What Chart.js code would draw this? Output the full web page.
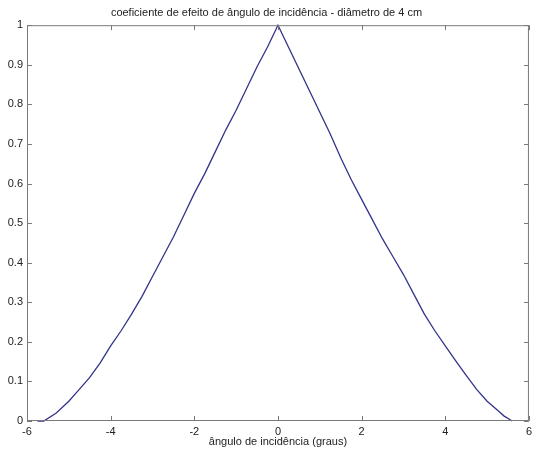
<!DOCTYPE html>
<html>
<head>
<meta charset="utf-8">
<title>coeficiente de efeito de ângulo de incidência</title>
<script src="https://cdn.jsdelivr.net/npm/chart.js@4/dist/chart.umd.min.js"></script>
<style>
  html, body { margin: 0; padding: 0; background: #fff; }
  #wrap { width: 536px; height: 455px; }
</style>
</head>
<body>
<div id="wrap"><canvas id="grafico" width="536" height="455"></canvas></div>
<script>
// Curva medida: ângulo de incidência (graus) x coeficiente
const anguloGraus = [
  -5.75, -5.6, -5.3, -5.0, -4.75, -4.5, -4.25, -4.0, -3.75, -3.5, -3.25, -3.0,
  -2.75, -2.5, -2.25, -2.0, -1.75, -1.5, -1.25, -1.0, -0.75, -0.5, -0.25, 0,
  0.25, 0.5, 0.75, 1.0, 1.25, 1.5, 1.75, 2.0, 2.25, 2.5, 2.75, 3.0,
  3.25, 3.5, 3.75, 4.0, 4.25, 4.5, 4.75, 5.0, 5.25, 5.4, 5.6
];
const coeficiente = [
  0, 0, 0.02, 0.05, 0.08, 0.11, 0.147, 0.19, 0.228, 0.27, 0.315, 0.365,
  0.415, 0.465, 0.52, 0.575, 0.625, 0.68, 0.735, 0.785, 0.84, 0.895, 0.945, 1.0,
  0.945, 0.89, 0.835, 0.78, 0.725, 0.665, 0.61, 0.56, 0.51, 0.46, 0.415, 0.37,
  0.32, 0.27, 0.228, 0.19, 0.152, 0.115, 0.08, 0.05, 0.027, 0.013, 0
];

const ticksX = [-6, -4, -2, 0, 2, 4, 6];
const rotulosX = ['-6', '-4', '-2', '0', '2', '4', '6'];
const ticksY = [0, 0.1, 0.2, 0.3, 0.4, 0.5, 0.6, 0.7, 0.8, 0.9, 1];
const rotulosY = ['0', '0.1', '0.2', '0.3', '0.4', '0.5', '0.6', '0.7', '0.8', '0.9', '1'];

const titulo = 'coeficiente de efeito de ângulo de incidência - diâmetro de 4 cm';
const tituloX = 'ângulo de incidência (graus)';

const corEixo = '#7a7a7a';
const fonte = { family: '"Liberation Sans", Arial, Helvetica, sans-serif', size: 11 };

// caixa dos eixos com marcas para dentro nos quatro lados
const caixaEixos = {
  id: 'caixaEixos',
  afterDatasetsDraw(chart) {
    const { ctx, chartArea: a, scales } = chart;
    const tam = 5;
    ctx.save();
    ctx.strokeStyle = corEixo;
    ctx.lineWidth = 1;
    ctx.beginPath();
    ctx.rect(a.left + 0.5, a.top + 0.5, a.right - a.left - 1, a.bottom - a.top - 1);
    ticksX.forEach(v => {
      const px = Math.round(scales.x.getPixelForValue(v)) + 0.5;
      ctx.moveTo(px, a.bottom);
      ctx.lineTo(px, a.bottom - tam);
      ctx.moveTo(px, a.top);
      ctx.lineTo(px, a.top + tam);
    });
    ticksY.forEach(v => {
      const py = Math.round(scales.y.getPixelForValue(v)) + 0.5;
      ctx.moveTo(a.left, py);
      ctx.lineTo(a.left + tam, py);
      ctx.moveTo(a.right, py);
      ctx.lineTo(a.right - tam, py);
    });
    ctx.stroke();
    ctx.restore();
  }
};

const pontos = anguloGraus.map((x, i) => ({ x: x, y: coeficiente[i] }));

new Chart(document.getElementById('grafico'), {
  type: 'scatter',
  data: {
    datasets: [{
      data: pontos,
      showLine: true,
      borderColor: '#33338a',
      borderWidth: 1.3,
      pointRadius: 0,
      tension: 0,
      clip: false
    }]
  },
  options: {
    responsive: false,
    animation: false,
    events: [],
    layout: { padding: { top: 0, right: 3, bottom: 0, left: 0 } },
    plugins: {
      legend: { display: false },
      tooltip: { enabled: false },
      title: {
        display: true,
        text: titulo,
        color: '#222',
        font: { ...fonte, weight: 'normal' },
        padding: { top: 6, bottom: 6 }
      }
    },
    scales: {
      x: {
        type: 'linear',
        min: -6,
        max: 6,
        afterBuildTicks: s => { s.ticks = ticksX.map(v => ({ value: v })); },
        afterFit: s => { s.height = 34; },
        grid: { display: false, drawTicks: false },
        border: { display: false },
        ticks: {
          color: '#222',
          font: fonte,
          padding: 4,
          maxRotation: 0,
          callback: (v) => rotulosX[ticksX.indexOf(v)]
        },
        title: {
          display: true,
          text: tituloX,
          color: '#222',
          font: fonte,
          padding: { top: 0, bottom: 6 }
        }
      },
      y: {
        type: 'linear',
        min: 0,
        max: 1,
        afterBuildTicks: s => { s.ticks = ticksY.map(v => ({ value: v })); },
        afterFit: s => { s.width = 27; },
        grid: { display: false, drawTicks: false },
        border: { display: false },
        ticks: {
          color: '#222',
          font: fonte,
          padding: 4,
          callback: (v) => rotulosY[ticksY.findIndex(t => Math.abs(t - v) < 1e-9)]
        }
      }
    }
  },
  plugins: [caixaEixos]
});
</script>
</body>
</html>
